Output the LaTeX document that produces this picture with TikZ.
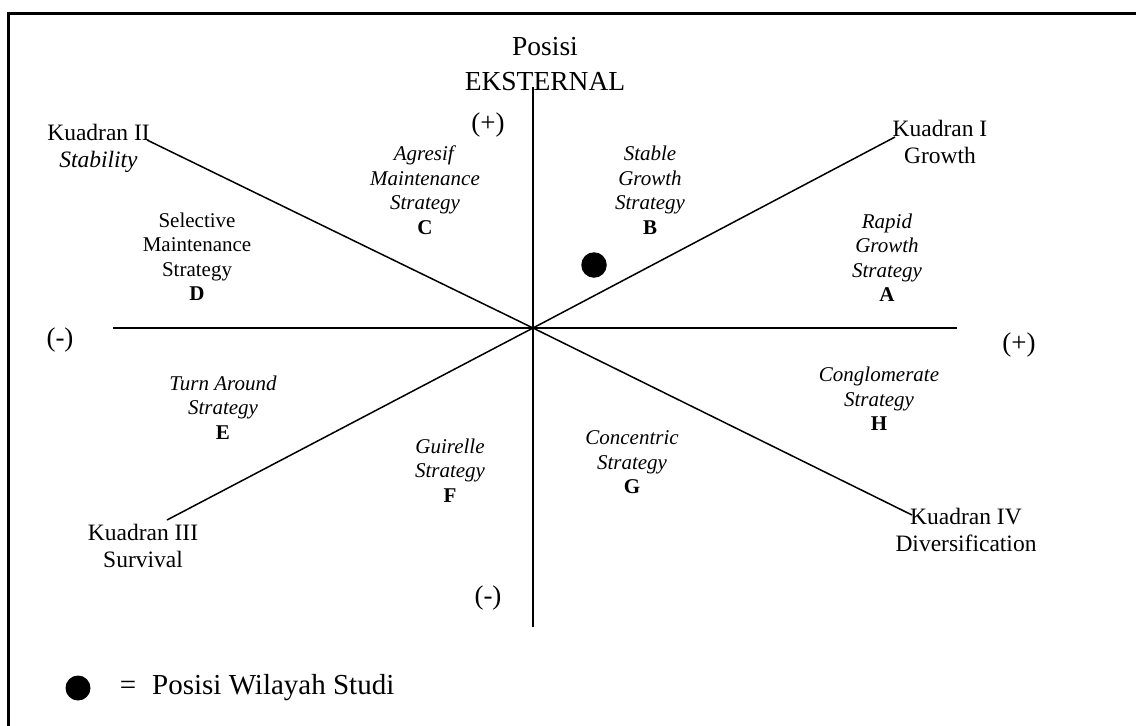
\documentclass[tikz,border=0pt]{standalone}
\usepackage{fontspec}
\setmainfont{Liberation Serif}
\begin{document}
\begin{tikzpicture}[x=1pt,y=-1pt,
  strat/.style={align=center,font=\fontsize{21}{24.5}\selectfont,inner sep=0pt},
  quad/.style={align=center,font=\fontsize{23.5}{27}\selectfont,inner sep=0pt},
  sign/.style={font=\fontsize{27}{30}\selectfont,inner sep=0pt},
  axisline/.style={line width=1.5pt},
  frameline/.style={line width=2.2pt},
  spot/.style={circle,fill=black,inner sep=0pt,minimum size=25.5pt}]
\useasboundingbox (0,0) rectangle (1136,726);

% outer frame (only top and left edges fall inside the page)
\coordinate (fbl) at (8.5,726);
\coordinate (ftl) at (8.5,13.5);
\coordinate (ftr) at (1136,13.5);
\draw[frameline] (fbl) -- (ftl) -- (ftr);

% axes and diagonals
\coordinate (o) at (533,328);
\coordinate (top) at (533,87);
\coordinate (bot) at (533,627);
\coordinate (lft) at (113,328);
\coordinate (rgt) at (957,328);
\coordinate (q1) at (895,137);
\coordinate (q2) at (147,140);
\coordinate (q3) at (167,520);
\coordinate (q4) at (912,515);
\draw[axisline] (top) -- (bot);
\draw[axisline] (lft) -- (rgt);
\draw[axisline] (q2) -- (o) -- (q4);
\draw[axisline] (q3) -- (o) -- (q1);

% axis titles and signs
\node[align=center,font=\fontsize{27.5}{35}\selectfont,inner sep=0pt] (eks) at (545,64) {Posisi\\EKSTERNAL};
\node[sign] (ptop) at (488,125) {(+)};
\node[sign] (mbot) at (488,598) {(-)};
\node[sign] (mlft) at (60,340) {(-)};
\node[sign] (prgt) at (1019,345) {(+)};

% quadrant names
\node[quad] (k1) at (940,141.5) {Kuadran I\\Growth};
\node[quad] (k2) at (98.5,148) {Kuadran II\\\textit{Stability}};
\node[quad] (k3) at (143,545.5) {Kuadran III\\Survival};
\node[quad] (k4) at (966,530) {Kuadran IV\\Diversification};

% strategies
\node[strat] (sa) at (887,257.5) {\textit{Rapid}\\\textit{Growth}\\\textit{Strategy}\\\textbf{A}};
\node[strat] (sb) at (650,190) {\textit{Stable}\\\textit{Growth}\\\textit{Strategy}\\\textbf{B}};
\node[strat] (sc) at (425,190) {\textit{Agresif}\\\textit{Maintenance}\\\textit{Strategy}\\\textbf{C}};
\node[strat] (sd) at (197,256.5) {Selective\\Maintenance\\Strategy\\\textbf{D}};
\node[strat] (se) at (223,407.5) {\textit{Turn Around}\\\textit{Strategy}\\\textbf{E}};
\node[strat] (sf) at (450,470.5) {\textit{Guirelle}\\\textit{Strategy}\\\textbf{F}};
\node[strat] (sg) at (632,462.5) {\textit{Concentric}\\\textit{Strategy}\\\textbf{G}};
\node[strat] (sh) at (879,399) {\textit{Conglomerate}\\\textit{Strategy}\\\textbf{H}};

% study area position
\node[spot] (pos) at (594,265) {};

% legend
\node[spot,minimum size=25pt] (lgdot) at (78,688) {};
\node[font=\fontsize{29}{32}\selectfont,inner sep=0pt] (lgeq) at (128,688) {=};
\node[font=\fontsize{29}{32}\selectfont,inner sep=0pt,anchor=west] (lgtxt) at (152,688) {Posisi Wilayah Studi};
\end{tikzpicture}
\end{document}
